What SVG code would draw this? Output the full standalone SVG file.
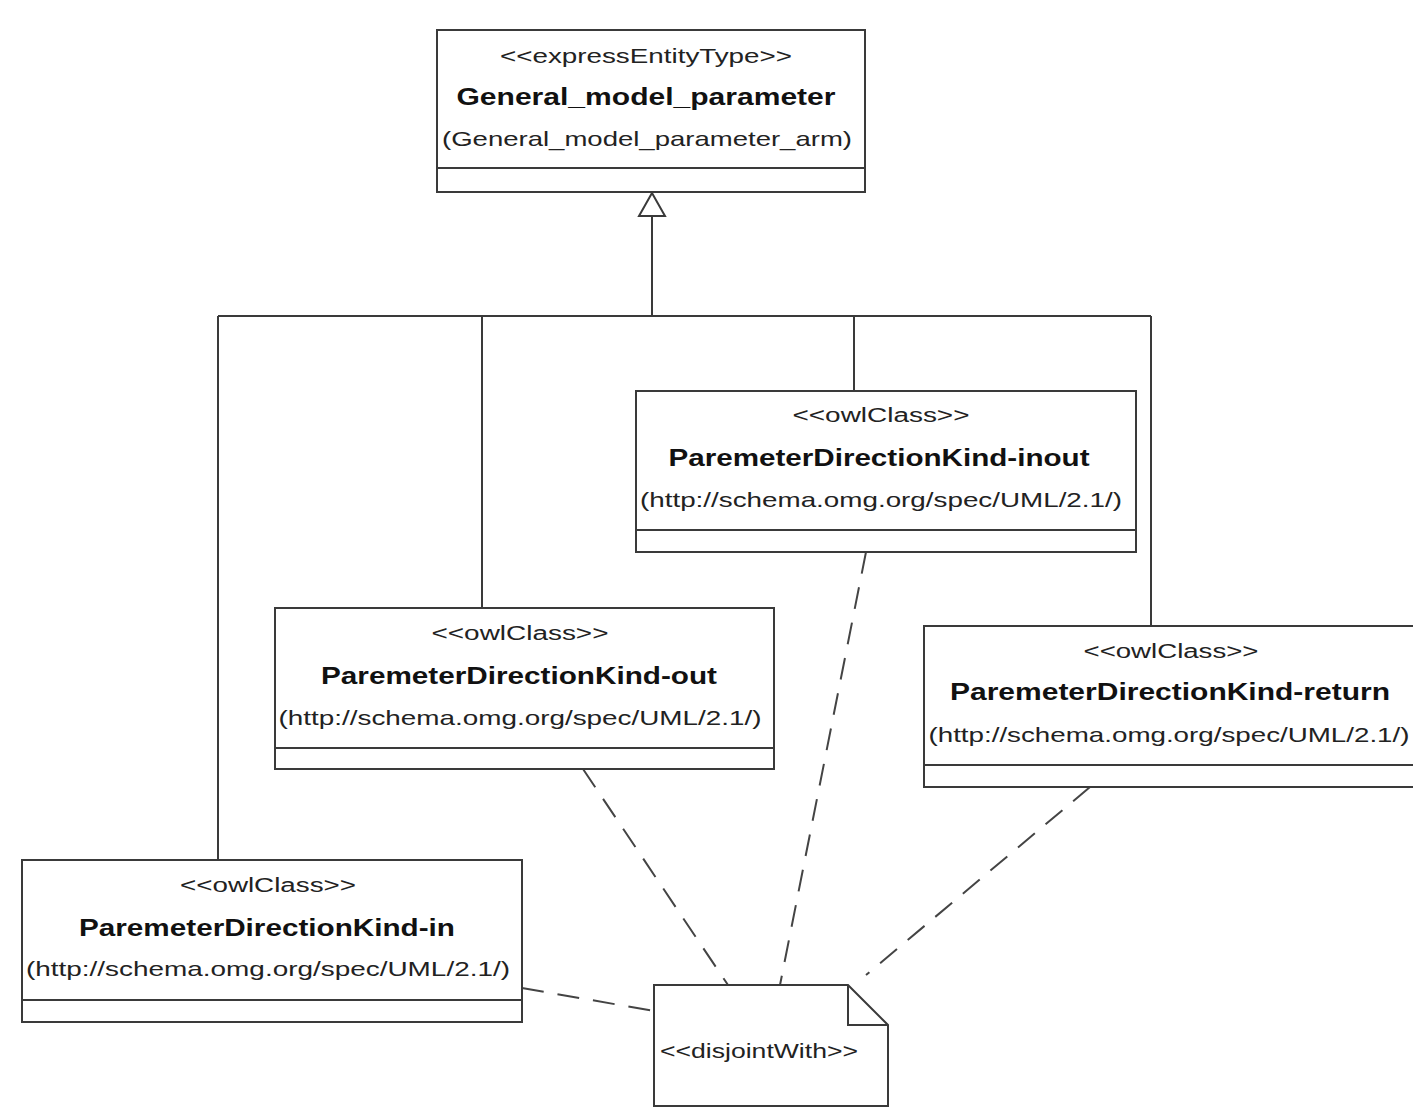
<svg xmlns="http://www.w3.org/2000/svg" width="1413" height="1109" viewBox="0 0 1413 1109">
<style>
.box{fill:#fff;stroke:#3a3a3a;stroke-width:2}
.sep{stroke:#3a3a3a;stroke-width:2}
.st{font-family:"Liberation Sans",Arial,sans-serif;font-size:20px;fill:#222}
.nm{font-family:"Liberation Sans",Arial,sans-serif;font-size:23px;font-weight:bold;fill:#111}
.url{font-family:"Liberation Sans",Arial,sans-serif;font-size:21px;fill:#222}
.gen{fill:none;stroke:#3a3a3a;stroke-width:2}
.dash{fill:none;stroke:#444;stroke-width:2;stroke-dasharray:22,14}
</style>
<rect width="1413" height="1109" fill="#fff"/>
<g id="connectors">
<path class="gen" d="M652,216 V316 M218,316 H1151 M218,316 V860 M482,316 V608 M854,316 V391 M1151,316 V626"/>
<polygon points="652,193 639,216 665,216" fill="#fff" stroke="#3a3a3a" stroke-width="2"/>
<line class="dash" x1="522" y1="988" x2="654" y2="1011"/>
<line class="dash" x1="583" y1="769" x2="728" y2="985"/>
<line class="dash" x1="866" y1="552" x2="780" y2="985"/>
<line class="dash" x1="1090" y1="787" x2="866" y2="975"/>
</g>
<g id="general_model_parameter">
<rect class="box" x="437" y="30" width="428" height="162"/>
<line class="sep" x1="437" y1="168" x2="865" y2="168"/>
<text class="st" x="646" y="63" text-anchor="middle" textLength="292" lengthAdjust="spacingAndGlyphs">&lt;&lt;expressEntityType&gt;&gt;</text>
<text class="nm" x="646" y="105" text-anchor="middle" textLength="379" lengthAdjust="spacingAndGlyphs">General_model_parameter</text>
<text class="url" x="647" y="146" text-anchor="middle" textLength="410" lengthAdjust="spacingAndGlyphs">(General_model_parameter_arm)</text>
</g>
<g id="inout">
<rect class="box" x="636" y="391" width="500" height="161"/>
<line class="sep" x1="636" y1="530" x2="1136" y2="530"/>
<text class="st" x="881" y="422" text-anchor="middle" textLength="177" lengthAdjust="spacingAndGlyphs">&lt;&lt;owlClass&gt;&gt;</text>
<text class="nm" x="879" y="466" text-anchor="middle" textLength="421" lengthAdjust="spacingAndGlyphs">ParemeterDirectionKind-inout</text>
<text class="url" x="881" y="507" text-anchor="middle" textLength="482" lengthAdjust="spacingAndGlyphs">(http://schema.omg.org/spec/UML/2.1/)</text>
</g>
<g id="out">
<rect class="box" x="275" y="608" width="499" height="161"/>
<line class="sep" x1="275" y1="748" x2="774" y2="748"/>
<text class="st" x="520" y="640" text-anchor="middle" textLength="177" lengthAdjust="spacingAndGlyphs">&lt;&lt;owlClass&gt;&gt;</text>
<text class="nm" x="519" y="684" text-anchor="middle" textLength="396" lengthAdjust="spacingAndGlyphs">ParemeterDirectionKind-out</text>
<text class="url" x="520" y="725" text-anchor="middle" textLength="483" lengthAdjust="spacingAndGlyphs">(http://schema.omg.org/spec/UML/2.1/)</text>
</g>
<g id="return">
<rect class="box" x="924" y="626" width="495" height="161"/>
<line class="sep" x1="924" y1="765" x2="1413" y2="765"/>
<text class="st" x="1171" y="658" text-anchor="middle" textLength="175" lengthAdjust="spacingAndGlyphs">&lt;&lt;owlClass&gt;&gt;</text>
<text class="nm" x="1170" y="700" text-anchor="middle" textLength="440" lengthAdjust="spacingAndGlyphs">ParemeterDirectionKind-return</text>
<text class="url" x="1169" y="742" text-anchor="middle" textLength="481" lengthAdjust="spacingAndGlyphs">(http://schema.omg.org/spec/UML/2.1/)</text>
</g>
<g id="in">
<rect class="box" x="22" y="860" width="500" height="162"/>
<line class="sep" x1="22" y1="1000" x2="522" y2="1000"/>
<text class="st" x="268" y="892" text-anchor="middle" textLength="176" lengthAdjust="spacingAndGlyphs">&lt;&lt;owlClass&gt;&gt;</text>
<text class="nm" x="267" y="936" text-anchor="middle" textLength="376" lengthAdjust="spacingAndGlyphs">ParemeterDirectionKind-in</text>
<text class="url" x="268" y="976" text-anchor="middle" textLength="484" lengthAdjust="spacingAndGlyphs">(http://schema.omg.org/spec/UML/2.1/)</text>
</g>
<g id="disjointWith">
<path class="box" d="M654,985 H848 L888,1025 V1106 H654 Z"/>
<path class="gen" d="M848,985 V1025 H888"/>
<text class="st" x="660" y="1058" textLength="198" lengthAdjust="spacingAndGlyphs">&lt;&lt;disjointWith&gt;&gt;</text>
</g>
</svg>
